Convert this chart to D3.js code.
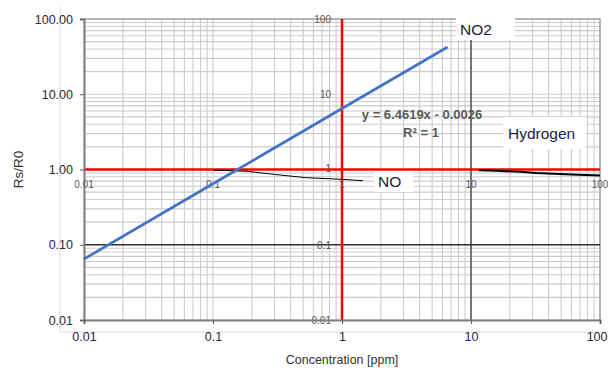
<!DOCTYPE html>
<html>
<head>
<meta charset="utf-8">
<script src="https://cdn.jsdelivr.net/npm/d3@7"></script>
<style>
  body { margin: 0; background: #fff; }
  svg { display: block; font-family: "Liberation Sans", Arial, sans-serif; }
</style>
</head>
<body>
<script>
// decade ticks for both log axes
var decades = [0.01, 0.1, 1, 10, 100];
var xTitle = "Concentration [ppm]";
var yTitle = "Rs/R0";

// NO2 fit line, y = 6.4619x - 0.0026
var no2 = [[0.01, 0.0646], [0.1, 0.646], [1, 6.46], [6.59, 42.4]];
// NO curve (thin black)
var no = [[0.1, 0.98], [0.18, 0.95], [0.3, 0.86], [0.52, 0.78], [1, 0.74], [1.45, 0.71]];
// Hydrogen curve (thick black)
var hydrogen = [[11.5, 0.98], [16, 0.96], [24, 0.93], [32, 0.9], [60, 0.86], [100, 0.83]];

var margin = {top: 19, right: 8, bottom: 50, left: 84},
    W = 608, H = 370,
    width = W - margin.left - margin.right,
    height = H - margin.top - margin.bottom;

var svg = d3.select("body").append("svg")
    .attr("width", W)
    .attr("height", H);

var x = d3.scaleLog().domain([0.01, 100]).range([margin.left, margin.left + 516]);
var y = d3.scaleLog().domain([0.01, 100]).range([margin.top + 301, margin.top]);

// outer light frame
svg.append("path")
    .attr("d", "M60,7V332H" + W)
    .attr("fill", "none")
    .attr("stroke", "#d9d9d9")
    .attr("stroke-width", 1);

// minor gridlines
var grid = svg.append("g").attr("stroke", "#cccccc").attr("stroke-width", 1.1);
grid.selectAll(".gx").data(x.ticks()).enter().append("line")
    .attr("x1", d => x(d)).attr("x2", d => x(d))
    .attr("y1", y(100)).attr("y2", y(0.01));
grid.selectAll(".gy").data(y.ticks()).enter().append("line")
    .attr("y1", d => y(d)).attr("y2", d => y(d))
    .attr("x1", x(0.01)).attr("x2", x(100));

// plot border top/right
svg.append("path")
    .attr("d", "M" + x(0.01) + "," + y(100) + "H" + x(100) + "V" + y(0.01))
    .attr("fill", "none")
    .attr("stroke", "#a6a6a6")
    .attr("stroke-width", 1.5);

// secondary chart axes
svg.append("line")
    .attr("x1", x(10)).attr("x2", x(10))
    .attr("y1", y(100)).attr("y2", y(0.01))
    .attr("stroke", "#595959").attr("stroke-width", 1.6);
svg.append("line")
    .attr("x1", x(0.01)).attr("x2", x(100))
    .attr("y1", y(0.1)).attr("y2", y(0.1))
    .attr("stroke", "#333").attr("stroke-width", 1.5);

// red axes crossing at (1,1)
svg.append("line")
    .attr("x1", x(0.01)).attr("x2", x(100))
    .attr("y1", y(1)).attr("y2", y(1))
    .attr("stroke", "#ff0000").attr("stroke-width", 2.5);
svg.append("line")
    .attr("x1", x(1)).attr("x2", x(1))
    .attr("y1", y(100)).attr("y2", y(0.01))
    .attr("stroke", "#ff0000").attr("stroke-width", 2.5);

// small labels of the inner chart
var small = svg.append("g")
    .attr("font-size", "10px")
    .attr("fill", "#595959");
small.selectAll(".sx").data(decades).enter().append("text")
    .attr("x", d => x(d))
    .attr("y", y(1) + 18)
    .attr("text-anchor", "middle")
    .text(d3.format("~g"));
small.selectAll(".sy").data(decades).enter().append("text")
    .attr("x", x(1) - 11)
    .attr("y", d => y(d) + (d == 1 ? 2 : 4))
    .attr("text-anchor", "end")
    .text(d3.format("~g"));

// main axes
var yAxis = svg.append("g")
    .attr("transform", "translate(" + x(0.01) + ",0)")
    .call(d3.axisLeft(y).tickValues(decades).tickFormat(d3.format(".2f")).tickSize(4).tickPadding(7));
var xAxis = svg.append("g")
    .attr("transform", "translate(0," + y(0.01) + ")")
    .call(d3.axisBottom(x).tickValues(decades).tickFormat(d3.format("~g")).tickSize(4).tickPadding(8));

[yAxis, xAxis].forEach(a => {
    a.select(".domain").attr("stroke", "#7f7f7f").attr("stroke-width", 2);
    a.selectAll(".tick line").attr("stroke", "#595959");
    a.selectAll(".tick text")
        .attr("font-family", "Liberation Sans, Arial, sans-serif")
        .attr("font-size", "12.5px")
        .attr("fill", "#262640");
});
// keep the last x label inside the window
xAxis.selectAll(".tick text").filter(d => d == 100)
    .attr("text-anchor", "end").attr("x", 7);

// series
var line = d3.line().x(d => x(d[0])).y(d => y(d[1]));

svg.append("path").datum(no)
    .attr("d", line)
    .attr("fill", "none")
    .attr("stroke", "#000")
    .attr("stroke-width", 1);

svg.append("path").datum(hydrogen)
    .attr("d", line)
    .attr("fill", "none")
    .attr("stroke", "#000")
    .attr("stroke-width", 2);

svg.append("path").datum(no2)
    .attr("d", line)
    .attr("fill", "none")
    .attr("stroke", "#4472c4")
    .attr("stroke-width", 2.7);

// trendline equation
var eq = svg.append("g")
    .attr("font-weight", "bold")
    .attr("font-size", "13px")
    .attr("fill", "#595959")
    .attr("text-anchor", "middle");
eq.append("text").attr("x", 422).attr("y", 119).text("y = 6.4619x - 0.0026");
eq.append("text").attr("x", 421).attr("y", 137).text("R² = 1");

// series labels with white boxes
var labels = [
    {name: "NO2", x: 456, y: 18, w: 59, h: 22},
    {name: "NO", x: 374, y: 171, w: 39, h: 21},
    {name: "Hydrogen", x: 503, y: 117, w: 83, h: 32}
];
var lab = svg.selectAll(".lab").data(labels).enter().append("g");
lab.append("rect")
    .attr("x", d => d.x).attr("y", d => d.y)
    .attr("width", d => d.w).attr("height", d => d.h)
    .attr("fill", "#fff");
lab.append("text")
    .attr("x", d => d.name == "Hydrogen" ? d.x + 5 : d.x + 4)
    .attr("y", d => d.y + d.h / 2 + 5.5)
    .attr("font-size", "15.5px")
    .attr("fill", "#202040")
    .text(d => d.name);

// axis titles
svg.append("text")
    .attr("x", x(1))
    .attr("y", 364)
    .attr("text-anchor", "middle")
    .attr("font-size", "12.5px")
    .attr("fill", "#333")
    .text(xTitle);
svg.append("text")
    .attr("transform", "translate(23," + y(1) + ") rotate(-90)")
    .attr("text-anchor", "middle")
    .attr("font-size", "13.5px")
    .attr("fill", "#333")
    .text(yTitle);
</script>
</body>
</html>
